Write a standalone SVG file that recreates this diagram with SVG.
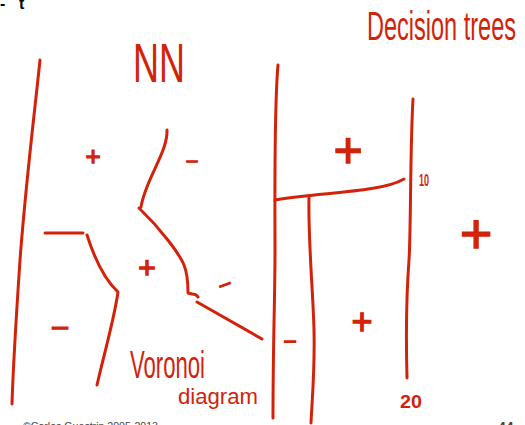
<svg xmlns="http://www.w3.org/2000/svg" width="525" height="425" viewBox="0 0 525 425">
<style>
.ink{fill:none;stroke:#d2230a;stroke-width:3;stroke-linecap:round;stroke-linejoin:round}
.hw{font-family:"Liberation Sans",Arial,sans-serif;fill:#d2230a}
.pm{font-family:"Liberation Sans",Arial,sans-serif;fill:#d2230a;stroke:#d2230a;stroke-width:1.3;text-anchor:middle}
.ft{font-family:"Liberation Sans",Arial,sans-serif;fill:#444}
</style>
<rect width="525" height="425" fill="#fff"/>
<g id="title-fragment">
<text x="0" y="9" font-family="Liberation Sans, Arial, sans-serif" font-size="16" font-weight="bold" fill="#000">-</text>
<text x="19" y="9" font-family="Liberation Sans, Arial, sans-serif" font-size="16" font-weight="bold" fill="#000">t</text>
</g>
<g id="nn-strokes">
<path class="ink" d="M40,60 C36,100 26,180 20,260 C16,320 13,370 12,404"/>
<path class="ink" d="M167,130 C168,152 145,180 141,207"/>
<path class="ink" d="M139,208 C162,230 180,255 184,265 C188,275 188,285 188,293 L192,294 C195,294 197,295 198,297"/>
<path class="ink" d="M197,302 L262,339"/>
<path class="ink" d="M45,233 L83,233"/>
<path class="ink" d="M87,235 C95,260 105,280 118,292 C114,320 105,350 97,385"/>
</g>
<g id="tree-strokes">
<path class="ink" d="M278,65 C274,110 275,200 275,250 C275,300 273,340 273,418"/>
<path class="ink" d="M275,200 C320,192 380,193 404,179"/>
<path class="ink" d="M309,197 C308,240 313,290 314,330 C315,370 312,400 311,423"/>
<path class="ink" d="M413,99 C410,150 411,230 409,260 C406,300 406,340 407,378"/>
</g>
<g id="labels">
<text class="hw" x="133" y="82" font-size="55" textLength="52" lengthAdjust="spacingAndGlyphs">NN</text>
<text class="hw" x="367" y="40" font-size="40" textLength="149" lengthAdjust="spacingAndGlyphs">Decision trees</text>
<text class="hw" x="130" y="378" font-size="38" textLength="75" lengthAdjust="spacingAndGlyphs">Voronoi</text>
<text class="hw" x="178" y="404" font-size="22" textLength="80" lengthAdjust="spacingAndGlyphs">diagram</text>
<text class="hw" x="419" y="186" font-size="17" font-weight="bold" textLength="10" lengthAdjust="spacingAndGlyphs">10</text>
<text class="hw" x="400" y="408" font-size="18" font-weight="bold" textLength="22" lengthAdjust="spacingAndGlyphs">20</text>
</g>
<g id="signs">
<text class="pm" x="93" y="165" font-size="26">+</text>
<text class="pm" x="147" y="278" font-size="30">+</text>
<text class="pm" x="348" y="167" font-size="50">+</text>
<text class="pm" x="476" y="253" font-size="56">+</text>
<text class="pm" x="362" y="334" font-size="36">+</text>
<text class="pm" x="192" y="166" font-size="19">–</text>
<text class="pm" x="225" y="290" font-size="20" transform="rotate(-20 225 285)">–</text>
<text class="pm" x="60" y="335" font-size="28">–</text>
<text class="pm" x="290" y="347" font-size="20">–</text>
</g>
<g id="footer">
<text class="ft" x="23" y="430" font-size="11.5" textLength="135" lengthAdjust="spacingAndGlyphs">©Carlos Guestrin 2005-2013</text>
<text class="ft" x="498" y="432" font-size="14" font-weight="bold" fill="#000">44</text>
</g>
</svg>
